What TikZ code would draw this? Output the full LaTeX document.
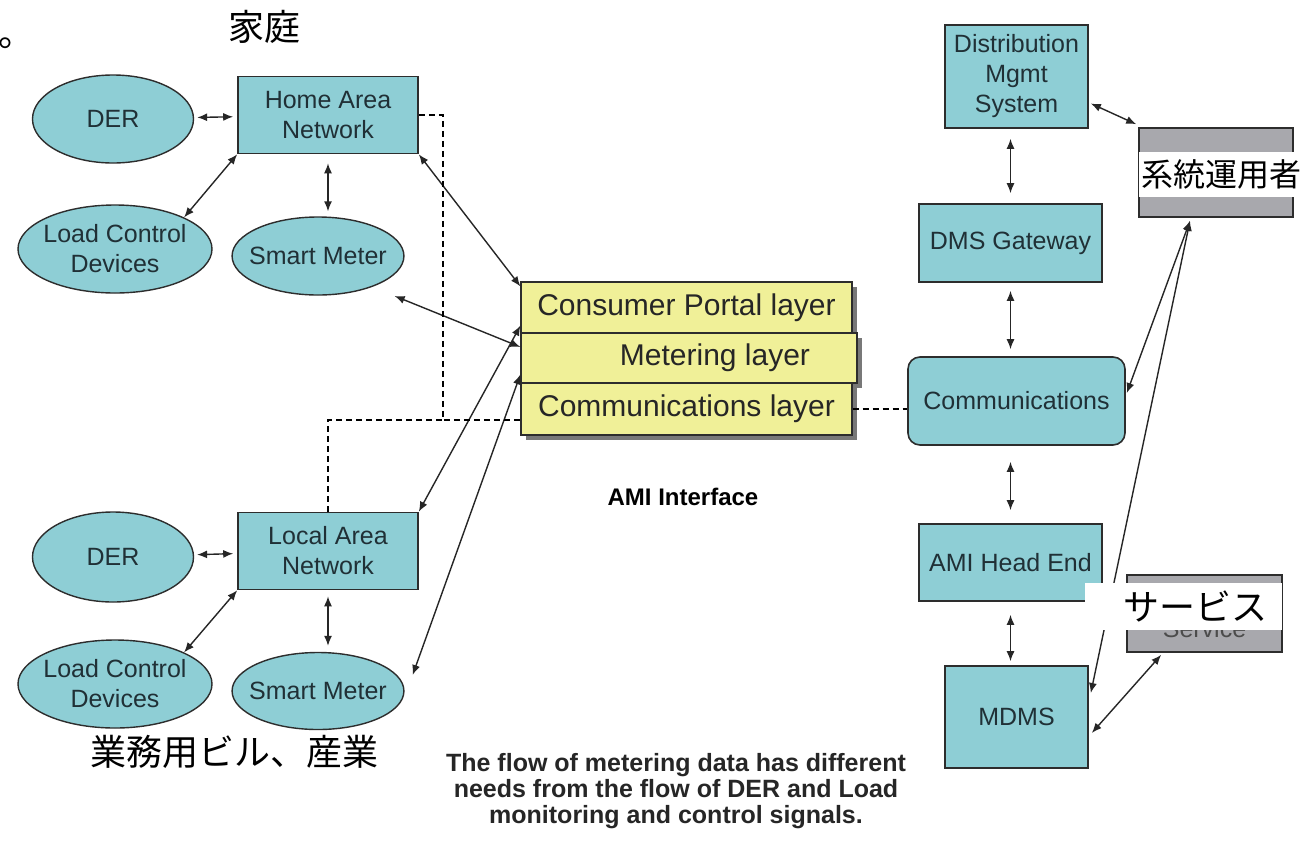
\documentclass[tikz,border=0pt]{standalone}
\usepackage{fontspec}
\setmainfont{Liberation Sans}
\newfontfamily\jpfont{Noto Sans CJK JP}
\usetikzlibrary{shapes.geometric,arrows.meta,calc,shadows}

\definecolor{netteal}{RGB}{142,206,213}
\definecolor{opsgray}{RGB}{168,168,173}
\definecolor{layeryellow}{RGB}{240,240,152}
\definecolor{layershadow}{RGB}{120,120,120}
\definecolor{edgedark}{RGB}{45,45,45}
\definecolor{labeldark}{RGB}{32,48,54}

\tikzset{
  net box/.style={
    rectangle, draw=edgedark, line width=1.6pt, fill=netteal, text=labeldark,
    align=center, inner sep=0pt, font=\fontsize{25}{30}\selectfont
  },
  dev ellipse/.style={
    ellipse, draw=edgedark, line width=1.4pt, fill=netteal, text=labeldark,
    align=center, inner sep=-8pt, font=\fontsize{25}{30}\selectfont
  },
  layer box/.style={
    rectangle, draw=edgedark, line width=1.2pt, fill=layeryellow, text=black!85,
    inner sep=0pt, font=\fontsize{30}{34}\selectfont,
    drop shadow={shadow xshift=5pt, shadow yshift=-5pt, fill=layershadow, opacity=1}
  },
  ops box/.style={
    rectangle, draw=edgedark, line width=1.6pt, fill=opsgray, text=black!70,
    inner sep=0pt, font=\fontsize{25}{30}\selectfont
  },
  jp strip/.style={
    rectangle, fill=white, inner sep=0pt, font=\jpfont\fontsize{32}{36}\selectfont
  },
  jp label/.style={inner sep=0pt, font=\jpfont\fontsize{36}{40}\selectfont},
  bilink/.style={
    {Latex[length=10pt,width=8pt]}-{Latex[length=10pt,width=8pt]},
    line width=1.4pt, draw=black!85
  },
  dash link/.style={line width=1.3pt, dash pattern=on 6pt off 4pt}
}

\begin{document}
\begin{tikzpicture}[x=1pt, y=-1pt]
\path[use as bounding box, fill=white] (0,0) rectangle (1303,841);

% 左上：家庭
\node[dev ellipse, minimum width=161pt, minimum height=88pt] (derh) at (113,119) {DER};
\node[dev ellipse, minimum width=194pt, minimum height=88pt] (lcdh) at (115,249) {Load Control\\Devices};
\node[dev ellipse, minimum width=162pt, minimum height=78pt] (smh) at (318,256) {Smart Meter};
\node[net box, minimum width=180pt, minimum height=77pt] (han) at (328,115) {Home Area\\Network};

\draw[bilink, shorten <=3pt, shorten >=4pt] (derh) -- (han);
\draw[bilink] (lcdh.north east) -- (han.south west);
\draw[bilink, shorten <=9pt, shorten >=5pt] (han.south) -- (han.south |- smh.north);

% 左下：業務用ビル、産業
\node[dev ellipse, minimum width=161pt, minimum height=90pt] (derl) at (113,557) {DER};
\node[dev ellipse, minimum width=194pt, minimum height=88pt] (lcdl) at (115,684) {Load Control\\Devices};
\node[dev ellipse, minimum width=163pt, minimum height=77pt] (sml) at (318,691) {Smart Meter};
\node[net box, minimum width=180pt, minimum height=77pt] (lan) at (328,551) {Local Area\\Network};

\draw[bilink, shorten <=3pt, shorten >=4pt] (derl) -- (lan);
\draw[bilink] (lcdl.north east) -- (lan.south west);
\draw[bilink, shorten <=6pt, shorten >=6pt] (lan.south) -- (lan.south |- sml.north);

% 中央：AMI インタフェース
\node[layer box, minimum width=331pt, minimum height=51pt] (cpl) at (686.5,307.5) {Consumer Portal layer};
\node[layer box, minimum width=336pt, minimum height=50pt] (mtl) at (689,358) {\hspace*{52pt}Metering layer};
\node[layer box, minimum width=331pt, minimum height=52pt] (cml) at (686.5,409) {Communications layer};
\node[font=\bfseries\fontsize{24}{28}\selectfont] (amiif) at (683,497) {AMI Interface};

\draw[bilink] (han.south east) -- ($(cpl.north west)+(0,5)$);
\draw[bilink] ($(smh.east)+(-10,40)$) -- ($(mtl.west)+(0,-11)$);
\draw[bilink] (lan.north east) -- ($(cpl.south west)+(0,-8)$);
\draw[bilink] ($(sml.east)+(8,-16)$) -- ($(cml.north west)+(0,-8)$);

\coordinate (dmid) at (443,420);
\draw[dash link] (han.east) -| (dmid) -- (dmid -| cml.west);
\draw[dash link] (lan.north) |- (dmid);

% 右：系統運用者側
\node[net box, minimum width=143pt, minimum height=103pt] (dms) at (1016.5,76.5) {Distribution\\Mgmt\\System};
\node[net box, minimum width=183pt, minimum height=78pt] (gw) at (1010.5,243) {DMS Gateway};
\node[net box, rounded corners=12pt, minimum width=217pt, minimum height=88pt] (comm) at (1016.5,401) {Communications};
\node[net box, minimum width=183pt, minimum height=77pt] (ami) at (1010.5,562.5) {AMI Head End};
\node[net box, minimum width=143pt, minimum height=102pt] (mdms) at (1016.5,717) {MDMS};
\node[ops box, minimum width=154pt, minimum height=89pt] (sys) at (1216,172.5) {};
\node[ops box, minimum width=155pt, minimum height=77pt,
      label={[yshift=-15pt, text=black!70, font=\fontsize{25}{30}\selectfont]center:Service}] (svc) at (1204.5,613.5) {};

\draw[dash link] (cml.east) -- (cml.east -| comm.west);
\draw[bilink, shorten <=10pt, shorten >=10pt] (gw.north |- dms.south) -- (gw.north);
\draw[bilink, shorten <=8pt, shorten >=7pt] (gw.south) -- (gw.south |- comm.north);
\draw[bilink, shorten <=16pt, shorten >=13pt] (ami.north |- comm.south) -- (ami.north);
\draw[bilink, shorten <=13pt, shorten >=4pt] (ami.south) -- (ami.south |- mdms.north);
\draw[bilink] ($(dms.east)+(2,27)$) -- ($(sys.north west)+(-2,-3)$);
\draw[bilink] ($(sys.south)+(-26,3)$) -- ($(comm.east)+(1,-8)$);
\draw[bilink] ($(sys.south)+(-26,3)$) -- ($(mdms.east)+(2,-24)$);
\draw[bilink] ($(mdms.east)+(3,16)$) -- ($(svc.south west)+(35,2)$);

% 日本語ラベル
\node[jp strip, minimum width=164pt, minimum height=45pt] (syslbl) at (1221,174.5) {系統運用者};
\node[jp strip, minimum width=197pt, minimum height=47pt,
      label={[xshift=12pt, font=\jpfont\fontsize{36}{40}\selectfont]center:サービス}] (svclbl) at (1183.5,606.5) {};
\node[jp label] (katei) at (264,27) {家庭};
\node[jp label, anchor=base west] (kuten) at (-2,46) {。};
\node[jp label] (gyomu) at (234,752) {業務用ビル、産業};

% 下：注記
\node[align=center, font=\bfseries\fontsize{25}{26}\selectfont, text=black!85] (flownote) at (676,791)
  {The flow of metering data has different\\needs from the flow of DER and Load\\monitoring and control signals.};

\end{tikzpicture}
\end{document}
